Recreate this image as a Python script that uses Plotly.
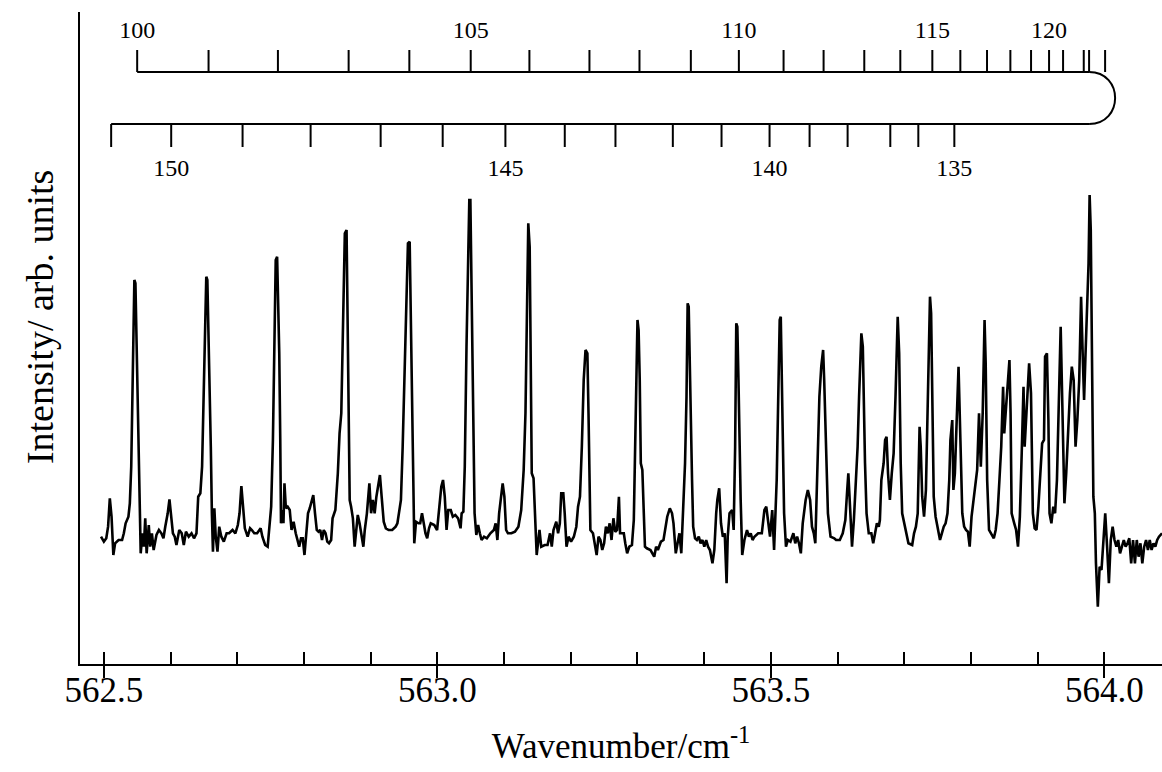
import plotly.graph_objects as go

# ---------------- data ----------------
wavenumber = [
562.4958,562.5001,562.5037,562.5064,562.5090,562.5116,562.5143,562.5169,562.5221,562.5274,
562.5300,562.5327,562.5369,562.5390,562.5411,562.5432,562.5448,562.5458,562.5474,562.5484,
562.5500,562.5516,562.5537,562.5553,562.5579,562.5600,562.5621,562.5642,562.5674,562.5695,
562.5721,562.5747,562.5789,562.5826,562.5863,562.5894,562.5921,562.5958,562.5984,562.6010,
562.6036,562.6063,562.6089,562.6131,562.6168,562.6199,562.6231,562.6273,562.6315,562.6352,
562.6389,562.6415,562.6447,562.6473,562.6494,562.6515,562.6536,562.6552,562.6567,562.6588,
562.6604,562.6620,562.6636,562.6657,562.6678,562.6704,562.6730,562.6762,562.6799,562.6841,
562.6878,562.6930,562.6972,562.7009,562.7035,562.7062,562.7088,562.7114,562.7156,562.7193,
562.7219,562.7256,562.7298,562.7325,562.7351,562.7377,562.7419,562.7456,562.7482,562.7509,
562.7535,562.7561,562.7577,562.7598,562.7614,562.7630,562.7645,562.7656,562.7682,562.7693,
562.7708,562.7729,562.7756,562.7787,562.7814,562.7845,562.7877,562.7903,562.7929,562.7956,
562.7982,562.8008,562.8034,562.8061,562.8087,562.8113,562.8140,562.8166,562.8192,562.8218,
562.8245,562.8271,562.8297,562.8324,562.8350,562.8376,562.8408,562.8429,562.8471,562.8508,
562.8534,562.8560,562.8586,562.8613,562.8639,562.8655,562.8671,562.8686,562.8707,562.8734,
562.8760,562.8786,562.8807,562.8834,562.8865,562.8891,562.8912,562.8944,562.8981,562.9007,
562.9033,562.9060,562.9086,562.9112,562.9139,562.9165,562.9196,562.9228,562.9270,562.9323,
562.9375,562.9401,562.9428,562.9454,562.9480,562.9507,562.9533,562.9559,562.9585,562.9601,
562.9617,562.9638,562.9654,562.9680,562.9717,562.9743,562.9770,562.9796,562.9822,562.9848,
562.9875,562.9901,562.9954,562.9996,563.0032,563.0059,563.0085,563.0111,563.0138,563.0164,
563.0201,563.0232,563.0269,563.0311,563.0348,563.0364,563.0390,563.0411,563.0437,563.0464,
563.0479,563.0495,563.0511,563.0532,563.0558,563.0584,563.0611,563.0637,563.0663,563.0700,
563.0742,563.0795,563.0847,563.0874,563.0900,563.0926,563.0953,563.0979,563.1005,563.1031,
563.1058,563.1110,563.1163,563.1215,563.1257,563.1294,563.1321,563.1347,563.1363,563.1384,
563.1399,563.1415,563.1442,563.1463,563.1489,563.1531,563.1557,563.1610,563.1652,563.1689,
563.1715,563.1741,563.1783,563.1810,563.1836,563.1857,563.1888,563.1909,563.1936,563.1967,
563.2004,563.2046,563.2083,563.2109,
563.2138,563.2166,563.2194,563.2221,563.2249,563.2266,563.2277,563.2294,563.2333,563.2361,
563.2388,563.2416,563.2444,563.2472,563.2500,563.2527,563.2555,563.2583,563.2611,563.2639,
563.2667,563.2694,563.2722,563.2739,563.2767,563.2795,563.2817,563.2845,563.2878,563.2917,
563.2945,563.2961,563.2984,563.3000,563.3017,563.3034,563.3050,563.3073,563.3095,563.3112,
563.3140,563.3195,563.3251,563.3279,563.3306,563.3351,563.3390,563.3418,563.3446,563.3485,
563.3518,563.3540,563.3574,563.3601,563.3629,563.3657,563.3685,563.3713,563.3735,563.3752,
563.3768,563.3785,563.3802,563.3818,563.3835,563.3863,563.3891,563.3919,563.3946,563.3974,
563.4002,563.4030,563.4058,563.4086,563.4124,563.4152,563.4180,563.4197,563.4225,563.4252,
563.4280,563.4308,563.4336,563.4353,563.4380,563.4419,563.4442,563.4464,563.4481,563.4497,
563.4514,563.4531,563.4547,563.4570,563.4603,563.4642,563.4670,563.4698,563.4725,563.4753,
563.4809,563.4864,563.4903,563.4931,563.4965,563.4987,563.5020,563.5048,563.5087,563.5115,
563.5132,563.5148,563.5165,563.5182,563.5198,563.5226,563.5254,563.5293,563.5337,563.5365,
563.5393,563.5421,563.5449,563.5477,563.5521,563.5554,563.5588,563.5616,563.5643,563.5666,
563.5699,563.5727,563.5755,563.5783,563.5799,563.5822,563.5855,563.5894,563.5950,563.5977,
563.6033,563.6077,563.6116,563.6144,563.6161,563.6189,563.6216,563.6244,563.6272,563.6300,
563.6322,563.6339,563.6356,563.6378,563.6395,563.6411,563.6434,563.6467,563.6506,563.6534,
563.6562,563.6589,563.6617,563.6634,563.6656,563.6690,563.6712,563.6734,563.6756,563.6784,
563.6812,563.6840,563.6868,563.6884,563.6901,563.6923,563.6946,563.6968,563.7007,563.7035,
563.7062,563.7118,563.7146,563.7174,563.7201,563.7229,563.7246,563.7268,563.7296,563.7324,
563.7341,563.7368,563.7385,563.7402,563.7424,563.7441,563.7469,563.7507,563.7535,563.7563,
563.7591,563.7619,563.7647,563.7674,563.7691,563.7719,563.7736,563.7758,563.7786,563.7813,
563.7841,563.7869,563.7897,563.7925,563.7953,563.7980,563.8008,563.8036,563.8064,563.8092,
563.8120,563.8147,563.8175,563.8203,563.8220,563.8242,563.8270,563.8303,563.8342,563.8370,
563.8398,563.8426,563.8453,563.8481,563.8498,563.8526,563.8554,563.8576,563.8593,563.8609,
563.8648,563.8676,563.8704,563.8732,563.8760,563.8787,563.8804,563.8843,563.8871,563.8899,
563.8927,563.8954,563.8982,563.9010,563.9038,563.9066,563.9094,563.9110,563.9138,563.9160,
563.9177,563.9205,563.9233,563.9260,563.9288,563.9316,563.9344,563.9361,563.9383,563.9400,
563.9427,563.9455,563.9483,563.9511,563.9539,563.9567,563.9594,563.9622,563.9650,563.9678,
563.9695,563.9717,563.9734,563.9762,563.9778,563.9795,563.9817,563.9834,563.9856,563.9873,
563.9901,563.9928,563.9956,563.9984,564.0012,564.0040,564.0067,564.0095,564.0123,564.0151,
564.0179,564.0206,564.0234,564.0262,564.0290,564.0318,564.0346,564.0373,564.0401,564.0429,
564.0457,564.0485,564.0512,564.0540,564.0568,564.0596,564.0624,564.0652,564.0679,564.0707,
564.0735,564.0763,564.0791,564.0818,564.0863,
]

intensity = [
127.3,122.3,125.7,137.3,165.7,147.3,109.0,120.7,124.0,124.0,
130.7,140.7,147.3,160.7,197.3,267.3,344.0,384.0,380.7,344.0,
310.7,250.7,167.3,110.7,130.7,117.3,145.7,110.7,139.0,117.3,
130.7,114.0,129.0,134.0,130.7,125.7,137.3,150.7,164.7,149.0,
130.7,127.3,119.0,134.0,130.7,119.0,132.3,127.3,130.7,125.7,
130.7,167.3,170.7,197.3,267.3,324.0,387.3,384.0,344.0,284.0,
217.3,150.7,112.3,155.7,127.3,112.3,137.3,127.3,122.3,130.7,
130.7,134.0,130.7,139.0,150.7,178.0,157.3,135.7,127.3,135.7,
134.0,130.7,130.7,134.0,135.7,127.3,119.0,117.3,137.3,157.3,
224.0,327.3,404.0,407.3,357.3,310.7,224.0,140.7,154.0,140.7,
180.7,155.7,157.3,154.0,134.0,142.3,130.7,124.0,117.3,125.7,
125.7,109.0,127.3,150.7,155.7,162.3,169.0,150.7,134.0,132.3,
134.0,124.0,134.0,130.7,122.3,120.7,124.0,145.7,154.0,190.7,
230.7,250.7,334.0,430.7,434.0,350.7,250.7,164.0,157.3,145.7,
117.3,137.3,149.0,140.7,127.3,117.3,134.0,150.7,180.7,150.7,
164.0,150.7,167.3,177.3,189.0,167.3,142.3,135.7,134.0,134.0,
137.3,140.7,150.7,164.0,217.3,284.0,364.0,420.7,422.3,350.7,
250.7,157.3,120.7,142.3,140.7,140.7,150.7,140.7,130.7,125.7,
135.7,140.7,139.0,134.0,164.0,177.3,184.0,167.3,134.0,154.0,
154.0,147.3,149.0,145.7,135.7,150.7,152.3,197.3,317.3,417.3,
464.0,464.0,384.0,250.7,150.7,129.0,139.0,130.7,124.0,127.3,
125.7,130.7,134.0,140.7,124.0,150.7,164.0,180.7,167.3,134.0,
130.7,130.7,132.3,137.3,154.0,194.0,250.7,367.3,440.7,417.3,
317.3,190.7,185.7,150.7,109.0,134.0,117.3,119.0,119.0,130.7,
117.3,134.0,142.3,130.7,140.7,170.7,170.7,150.7,117.3,127.3,
122.3,127.3,137.3,157.3,
167.3,217.3,284.0,314.0,310.7,250.7,184.0,134.0,130.7,117.3,
109.0,127.3,124.0,114.0,120.7,137.3,130.7,140.7,124.0,145.7,
132.3,134.0,167.3,130.7,130.7,130.7,120.7,110.7,117.3,119.0,
144.0,200.7,297.3,344.0,334.0,284.0,200.7,194.0,150.7,117.3,
115.7,114.0,107.3,117.3,114.0,122.3,124.0,134.0,147.3,155.7,
150.7,140.7,110.7,120.7,130.7,110.7,150.7,200.7,267.3,360.7,
357.3,284.0,234.0,184.0,137.3,125.7,124.0,127.3,120.7,124.0,
117.3,124.0,117.3,114.0,100.7,114.0,150.7,164.0,175.7,140.7,
127.3,130.7,80.7,127.3,150.7,154.0,134.0,217.3,340.7,337.3,
284.0,210.7,164.0,109.0,124.0,134.0,127.3,130.7,124.0,127.3,
130.7,130.7,154.0,157.3,137.3,127.3,154.0,114.0,184.0,277.3,
344.0,347.3,284.0,200.7,150.7,117.3,124.0,122.3,130.7,120.7,
127.3,120.7,110.7,140.7,164.0,174.0,164.0,137.3,130.7,120.7,
200.7,267.3,297.3,314.0,284.0,217.3,150.7,127.3,125.7,124.0,
124.0,130.7,144.0,174.0,190.7,154.0,117.3,144.0,177.3,217.3,
267.3,300.7,330.7,317.3,244.0,200.7,150.7,130.7,130.7,120.7,
130.7,140.7,137.3,144.0,184.0,200.7,224.0,227.3,190.7,164.0,
190.7,210.7,267.3,317.3,347.3,310.7,200.7,150.7,137.3,130.7,
120.7,119.0,130.7,137.3,150.7,237.3,217.3,167.3,147.3,174.0,
224.0,300.7,367.3,350.7,250.7,167.3,147.3,134.0,124.0,130.7,
137.3,140.7,150.7,184.0,224.0,244.0,174.0,190.7,244.0,297.3,
224.0,150.7,137.3,134.0,132.3,117.3,147.3,164.0,177.3,194.0,
250.7,197.3,250.7,344.0,300.7,184.0,134.0,130.7,125.7,134.0,
150.7,184.0,217.3,277.3,230.7,257.3,290.7,304.0,250.7,150.7,
140.7,134.0,117.3,147.3,210.7,277.3,217.3,274.0,300.7,270.7,
150.7,135.7,134.0,157.3,184.0,220.7,224.0,307.3,310.7,244.0,
150.7,140.7,157.3,150.7,184.0,250.7,337.3,284.0,217.3,160.7,
190.7,234.0,270.7,297.3,284.0,217.3,244.0,284.0,367.3,300.7,
264.0,310.7,350.7,400.7,469.0,434.0,284.0,167.3,150.7,100.7,
57.3,97.3,94.0,127.3,150.7,117.3,80.7,124.0,137.3,124.0,
117.3,124.0,110.7,117.3,124.0,117.3,120.7,125.7,100.7,124.0,
100.7,124.0,107.3,120.7,100.7,117.3,124.0,114.0,124.0,114.0,
120.7,117.3,124.0,127.3,130.7,
]

# Fortrat ladder (rotational quantum numbers and line positions)
upper_J = list(range(100, 125))
upper_pos = [562.550, 562.657, 562.761, 562.867, 562.958, 563.050, 563.138, 563.228,
             563.303, 563.380, 563.452, 563.519, 563.579, 563.640, 563.694, 563.742,
             563.784, 563.824, 563.859, 563.890, 563.917, 563.938, 563.969, 563.977,
             564.001]
lower_J = list(range(151, 134, -1))
lower_pos = [562.511, 562.601, 562.708, 562.810, 562.915, 563.008, 563.102, 563.191,
             563.267, 563.353, 563.426, 563.498, 563.558, 563.615, 563.679, 563.721,
             563.775]

x_ticks_major = [562.5, 563.0, 563.5, 564.0]

# ---------------- layout constants ----------------
XR = [562.4643, 564.0863]
YR = [0, 652]
UP_LINE, UP_TICK, UP_LAB = 592, 614, 632
LO_LINE, LO_TICK, LO_LAB = 540, 517, 494
TURN_X, TURN_R = 563.977, 0.039
SERIF = "Liberation Serif"

fig = go.Figure()

fig.add_trace(go.Scatter(x=wavenumber, y=intensity, mode="lines",
                         line=dict(color="black", width=2.6),
                         hoverinfo="skip", showlegend=False))

# ladder ticks
tx, ty = [], []
for p in upper_pos:
    tx += [p, p, None]
    ty += [UP_LINE, UP_TICK, None]
for p in lower_pos:
    tx += [p, p, None]
    ty += [LO_LINE, LO_TICK, None]
fig.add_trace(go.Scatter(x=tx, y=ty, mode="lines", xaxis="x2",
                         line=dict(color="black", width=2),
                         hoverinfo="skip", showlegend=False))
# ladder rails
fig.add_trace(go.Scatter(x=[upper_pos[0], TURN_X, None, lower_pos[0], TURN_X],
                         y=[UP_LINE, UP_LINE, None, LO_LINE, LO_LINE],
                         mode="lines", xaxis="x2",
                         line=dict(color="black", width=2),
                         hoverinfo="skip", showlegend=False))
# ladder labels
ux = [p for j, p in zip(upper_J, upper_pos) if j % 5 == 0]
ut = [str(j) for j in upper_J if j % 5 == 0]
lx = [p for j, p in zip(lower_J, lower_pos) if j % 5 == 0]
lt = [str(j) for j in lower_J if j % 5 == 0]
fig.add_trace(go.Scatter(x=ux, y=[UP_LAB] * len(ux), text=ut, mode="text", xaxis="x2",
                         textfont=dict(family=SERIF, size=24, color="black"),
                         hoverinfo="skip", showlegend=False))
fig.add_trace(go.Scatter(x=lx, y=[LO_LAB] * len(lx), text=lt, mode="text", xaxis="x2",
                         textfont=dict(family=SERIF, size=24, color="black"),
                         hoverinfo="skip", showlegend=False))

k = TURN_R / 0.75
fig.add_shape(type="path", xref="x", yref="y",
              path=f"M {TURN_X},{UP_LINE} C {TURN_X + k},{UP_LINE} {TURN_X + k},{LO_LINE} {TURN_X},{LO_LINE}",
              line=dict(color="black", width=2))

fig.update_layout(
    width=1162, height=772,
    margin=dict(l=80, r=0, t=12, b=108),
    paper_bgcolor="white", plot_bgcolor="white",
    font=dict(family=SERIF, color="black"),
    xaxis=dict(range=XR, showgrid=False, zeroline=False,
               showline=True, linecolor="black", linewidth=2,
               ticks="inside", ticklen=12, tickwidth=2, tickcolor="black",
               tick0=562.5, dtick=0.1, showticklabels=False),
    xaxis2=dict(range=XR, overlaying="x", anchor="y", side="bottom",
                showgrid=False, zeroline=False, showline=False,
                ticks="outside", ticklen=13, tickwidth=2, tickcolor="black",
                tickmode="array", tickvals=x_ticks_major,
                ticktext=[f"{v:.1f}" for v in x_ticks_major],
                ticklabelstandoff=-18,
                tickfont=dict(family=SERIF, size=35, color="black"),
                title=dict(text="Wavenumber/cm<sup>-1</sup>",
                           font=dict(family=SERIF, size=35, color="black"),
                           standoff=24)),
    yaxis=dict(range=YR, showgrid=False, zeroline=False,
               showline=True, linecolor="black", linewidth=2,
               ticks="", showticklabels=False),
    annotations=[dict(text="Intensity/ arb. units", textangle=-90,
                      xref="paper", yref="paper", x=-0.037, y=0.532,
                      xanchor="center", yanchor="middle", showarrow=False,
                      font=dict(family=SERIF, size=38, color="black"))],
)

fig.write_html("out.html")
